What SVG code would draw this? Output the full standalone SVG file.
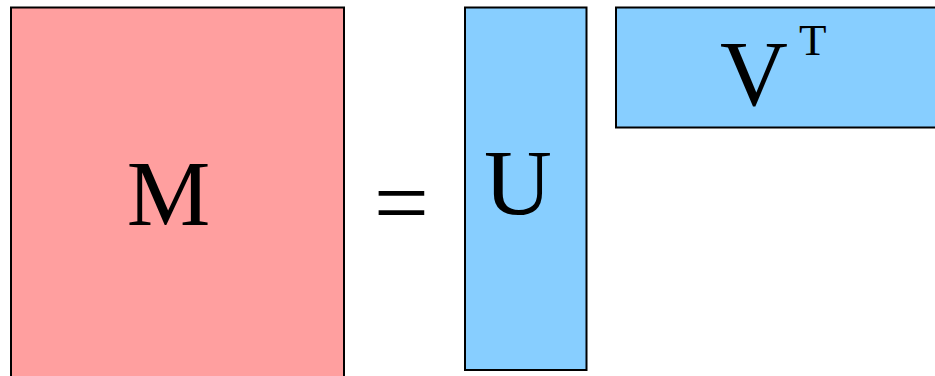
<svg xmlns="http://www.w3.org/2000/svg" width="935" height="376" viewBox="0 0 935 376">
<style>
.box{stroke:#000;stroke-width:2}
.m{fill:#FF9F9F}
.b{fill:#87CEFF}
.t{font-family:"Liberation Serif",serif;font-size:94px;fill:#000;text-anchor:middle}
.sup{font-family:"Liberation Serif",serif;font-size:45px;fill:#000}
</style>
<rect width="935" height="376" fill="#fff"/>
<g id="M"><rect class="box m" x="11" y="7.5" width="333" height="372"/><text class="t" x="168.5" y="225">M</text></g>
<g id="eq"><text class="t" x="401.5" y="235" style="font-size:98px">=</text></g>
<g id="U"><rect class="box b" x="465" y="7.5" width="121.5" height="362.5"/><text class="t" x="518" y="214">U</text></g>
<g id="VT"><rect class="box b" x="616" y="7.5" width="330" height="120"/><text class="t" x="754" y="105">V</text><text class="sup" x="799" y="55">T</text></g>
<g id="connectors"/>
</svg>
